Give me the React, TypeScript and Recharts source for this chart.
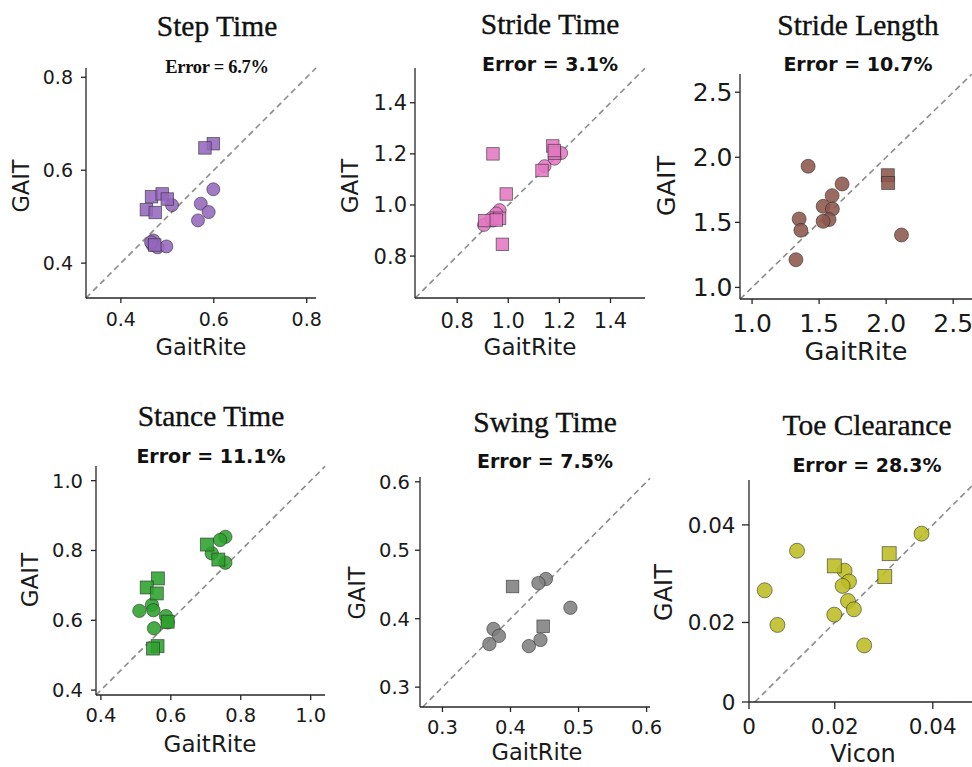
import React from 'react';
import { ScatterChart, Scatter, XAxis, YAxis, ReferenceLine } from 'recharts';

// values: [GaitRite / Vicon, GAIT]
const stepTimeCircles = [
  [0.599, 0.559], [0.572, 0.528], [0.589, 0.51], [0.566, 0.492], [0.51, 0.525],
  [0.47, 0.449], [0.468, 0.439], [0.479, 0.434], [0.498, 0.436], [0.465, 0.445],
];
const stepTimeSquares = [
  [0.599, 0.657], [0.581, 0.648], [0.466, 0.543], [0.489, 0.549],
  [0.5, 0.538], [0.455, 0.515], [0.474, 0.509], [0.473, 0.439],
];
const strideTimeCircles = [
  [1.207, 1.203], [1.181, 1.181], [1.142, 1.152], [0.905, 0.922],
  [0.94, 0.939], [0.966, 0.98], [0.953, 0.967], [0.934, 0.948],
];
const strideTimeSquares = [
  [0.94, 1.2], [1.174, 1.231], [1.181, 1.203], [1.18, 1.213], [1.132, 1.135],
  [0.992, 1.043], [0.908, 0.939], [0.966, 0.948], [0.953, 0.941], [0.977, 0.846],
];
const strideLengthCircles = [
  [1.418, 1.931], [1.671, 1.795], [1.597, 1.705], [1.53, 1.623], [1.599, 1.603],
  [1.574, 1.521], [1.53, 1.508], [1.351, 1.526], [1.364, 1.439], [1.327, 1.213], [2.114, 1.403],
];
const strideLengthSquares = [[2.012, 1.862], [2.015, 1.803]];
const stanceTimeCircles = [
  [0.756, 0.839], [0.741, 0.83], [0.717, 0.792], [0.756, 0.765], [0.51, 0.627],
  [0.546, 0.644], [0.55, 0.629], [0.586, 0.612], [0.591, 0.594], [0.552, 0.577],
];
const stanceTimeSquares = [
  [0.703, 0.817], [0.736, 0.774], [0.563, 0.72], [0.531, 0.694],
  [0.56, 0.677], [0.591, 0.596], [0.562, 0.526], [0.549, 0.519],
];
const swingTimeCircles = [
  [0.452, 0.458], [0.441, 0.452], [0.488, 0.416], [0.375, 0.385],
  [0.383, 0.375], [0.369, 0.363], [0.427, 0.36], [0.444, 0.369],
];
const swingTimeSquares = [[0.403, 0.447], [0.448, 0.389]];
const toeClearanceCircles = [
  [0.0377, 0.0382], [0.0123, 0.0347], [0.0057, 0.0266], [0.0083, 0.0195],
  [0.022, 0.0306], [0.0229, 0.0284], [0.0216, 0.0275], [0.0227, 0.0244],
  [0.0239, 0.0227], [0.0199, 0.0216], [0.026, 0.0153],
];
const toeClearanceSquares = [[0.0199, 0.0316], [0.0311, 0.0341], [0.0302, 0.0294]];

const titles = ['Step Time', 'Stride Time', 'Stride Length', 'Stance Time', 'Swing Time', 'Toe Clearance'];
const errors = ['Error = 6.7%', 'Error = 3.1%', 'Error = 10.7%', 'Error = 11.1%', 'Error = 7.5%', 'Error = 28.3%'];
const xLabels = ['GaitRite', 'GaitRite', 'GaitRite', 'GaitRite', 'GaitRite', 'Vicon'];

const stepTimeTicks = [0.4, 0.6, 0.8];
const strideTimeTicks = [0.8, 1.0, 1.2, 1.4];
const strideLengthTicks = [1.0, 1.5, 2.0, 2.5];
const stanceTimeTicks = [0.4, 0.6, 0.8, 1.0];
const swingTimeTicks = [0.3, 0.4, 0.5, 0.6];
const toeXTicks = [0.0025, 0.02, 0.04];
const toeYTicks = [0.0037, 0.02, 0.04];

const toPts = (arr: number[][]) => arr.map(([x, y]) => ({ x, y }));

interface Panel {
  circles: number[][];
  squares: number[][];
  color: string;
  xDomain: [number, number];
  yDomain: [number, number];
  xTicks: number[];
  yTicks: number[];
  fmt: (v: number) => string;
  box: [number, number, number, number]; // plot x0, y0, x1, y1
  tickFont: number;
  tickSize: number;
  xMargin: number;
  yMargin: number;
  r: number;
  side: number;
}

const f1 = (v: number) => v.toFixed(1);

const panels: Panel[] = [
  { circles: stepTimeCircles, squares: stepTimeSquares, color: '#9467bd', xDomain: [0.325, 0.82], yDomain: [0.325, 0.82],
    xTicks: stepTimeTicks, yTicks: stepTimeTicks, fmt: f1, box: [86, 68, 316, 298], tickFont: 19, tickSize: 5, xMargin: 10, yMargin: 8, r: 6.5, side: 12.5 },
  { circles: strideTimeCircles, squares: strideTimeSquares, color: '#e377c2', xDomain: [0.635, 1.535], yDomain: [0.636, 1.536],
    xTicks: strideTimeTicks, yTicks: strideTimeTicks, fmt: f1, box: [415, 68, 645, 298], tickFont: 21, tickSize: 5, xMargin: 10, yMargin: 3, r: 6.5, side: 12.5 },
  { circles: strideLengthCircles, squares: strideLengthSquares, color: '#8c564b', xDomain: [0.91, 2.64], yDomain: [0.911, 2.64],
    xTicks: strideLengthTicks, yTicks: strideLengthTicks, fmt: f1, box: [740, 74, 972, 299], tickFont: 25, tickSize: 5, xMargin: 10.5, yMargin: 2.5, r: 7, side: 13 },
  { circles: stanceTimeCircles, squares: stanceTimeSquares, color: '#2ca02c', xDomain: [0.386, 1.041], yDomain: [0.386, 1.042],
    xTicks: stanceTimeTicks, yTicks: stanceTimeTicks, fmt: f1, box: [96, 466, 325, 695], tickFont: 19.5, tickSize: 5, xMargin: 8, yMargin: 8, r: 6.7, side: 13 },
  { circles: swingTimeCircles, squares: swingTimeSquares, color: '#7f7f7f', xDomain: [0.267, 0.605], yDomain: [0.271, 0.607],
    xTicks: swingTimeTicks, yTicks: swingTimeTicks, fmt: f1, box: [420, 477, 650, 707], tickFont: 19.5, tickSize: 5, xMargin: 8, yMargin: 5, r: 6.7, side: 12.5 },
  { circles: toeClearanceCircles, squares: toeClearanceSquares, color: '#bcbd22', xDomain: [0.0025, 0.048], yDomain: [0.0037, 0.0492],
    xTicks: toeXTicks, yTicks: toeYTicks, fmt: (v) => (v < 0.01 ? '0' : v.toFixed(2)), box: [749, 480, 972, 702], tickFont: 21.5, tickSize: 7, xMargin: 9.5, yMargin: 6.5, r: 7.5, side: 14 },
];

// text placement: [titleX, titleBaseline, errorBaseline, xLabelX, xLabelBaseline, yLabelBaselineX, yLabelCenterY, labelFont]
const textPos = [
  [217, 36, 73, 201, 355, 29, 186, 22.5],
  [550, 33.5, 70.5, 530, 355, 358, 186, 23],
  [858, 34.5, 70.7, 856, 360, 675, 186, 25.5],
  [211, 426, 462.7, 210, 751.5, 38, 580, 23],
  [545, 431.7, 468.3, 537, 759.5, 365, 593, 22.5],
  [867, 435, 471.7, 863, 761.5, 671.5, 592.5, 24],
];

const YW = 70;
const MT = 12;
const MR = 12;
const XH = 44;
const AXIS = '#262626';
const SANS = '"DejaVu Sans", sans-serif';
const SERIF = '"Liberation Serif", "Times New Roman", serif';

const PanelChart = ({ p }: { p: Panel }) => {
  const [x0, y0, x1, y1] = p.box;
  const lo = Math.max(p.xDomain[0], p.yDomain[0]);
  const hi = Math.min(p.xDomain[1], p.yDomain[1]);
  const tick = { fontSize: p.tickFont, fill: '#1a1a1a', fontFamily: SANS };
  const axisLine = { stroke: AXIS, strokeWidth: 1.3 };
  const markStyle = { fill: p.color, fillOpacity: 0.88, stroke: '#2a2a2a', strokeOpacity: 0.7, strokeWidth: 0.8 };
  return (
    <div style={{ position: 'absolute', left: x0 - YW, top: y0 - MT }}>
      <ScatterChart width={YW + (x1 - x0) + MR} height={MT + (y1 - y0) + XH} margin={{ top: MT, right: MR, bottom: 0, left: 0 }}>
        <XAxis type="number" dataKey="x" domain={p.xDomain} ticks={p.xTicks} allowDataOverflow tickFormatter={p.fmt}
          height={XH} tick={tick} axisLine={axisLine} tickLine={axisLine} tickSize={p.tickSize} tickMargin={p.xMargin} interval={0} />
        <YAxis type="number" dataKey="y" domain={p.yDomain} ticks={p.yTicks} allowDataOverflow tickFormatter={p.fmt}
          width={YW} tick={tick} axisLine={axisLine} tickLine={axisLine} tickSize={p.tickSize} tickMargin={p.yMargin} interval={0} />
        <ReferenceLine segment={[{ x: lo, y: lo }, { x: hi, y: hi }]} stroke="#8c8c8c" strokeWidth={1.6} strokeDasharray="6 4" ifOverflow="visible" />
        <Scatter data={toPts(p.circles)} isAnimationActive={false}
          shape={(s: any) => <circle cx={s.cx} cy={s.cy} r={p.r} {...markStyle} />} />
        <Scatter data={toPts(p.squares)} isAnimationActive={false}
          shape={(s: any) => <rect x={s.cx - p.side / 2} y={s.cy - p.side / 2} width={p.side} height={p.side} {...markStyle} />} />
      </ScatterChart>
    </div>
  );
};

const App = () => {
  return (
    <div style={{ position: 'absolute', left: 0, top: 0, width: 972, height: 767, overflow: 'hidden', background: '#fff' }}>
      {panels.map((p, i) => <PanelChart key={i} p={p} />)}
      <svg width={972} height={767} style={{ position: 'absolute', left: 0, top: 0, pointerEvents: 'none' }}>
        {textPos.map(([tx, tb, eb, lx, lb, yx, yc, lf], i) => (
          <g key={i}>
            <text x={tx} y={tb} textAnchor="middle" fontFamily={SERIF} fontSize={29.5} fill="#111" stroke="#111" strokeWidth={0.35}>{titles[i]}</text>
            {i === 0 ? (
              <text x={tx} y={eb} textAnchor="middle" fontFamily={SERIF} fontWeight="bold" fontSize={18.5} letterSpacing={-0.3} fill="#111">{errors[i]}</text>
            ) : (
              <text x={tx} y={eb} textAnchor="middle" fontFamily={SANS} fontWeight="bold" fontSize={19} fill="#111">{errors[i]}</text>
            )}
            <text x={lx} y={lb} textAnchor="middle" fontFamily={SANS} fontSize={lf} fill="#1a1a1a">{xLabels[i]}</text>
            <text x={yx} y={yc} textAnchor="middle" fontFamily={SANS} fontSize={lf} fill="#1a1a1a" transform={`rotate(-90 ${yx} ${yc})`}>GAIT</text>
          </g>
        ))}
      </svg>
    </div>
  );
};

export default App;
